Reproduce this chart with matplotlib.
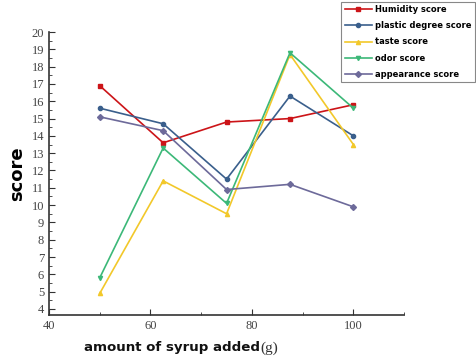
import matplotlib
matplotlib.use("Agg")
import matplotlib.pyplot as plt
from matplotlib.ticker import MultipleLocator

syrup = [50, 62.5, 75, 87.5, 100]
humidity = [16.9, 13.6, 14.8, 15.0, 15.8]
plastic = [15.6, 14.7, 11.5, 16.3, 14.0]
taste = [4.9, 11.4, 9.5, 18.7, 13.5]
odor = [5.8, 13.3, 10.1, 18.8, 15.6]
appearance = [15.1, 14.3, 10.9, 11.2, 9.9]

fig = plt.figure(figsize=(4.76, 3.6), dpi=100)
ax = fig.add_axes([0.103, 0.125, 0.746, 0.786])

series = [
    ("Humidity score", humidity, "#cc1418", "s"),
    ("plastic degree score", plastic, "#3a5f8c", "o"),
    ("taste score", taste, "#f2c82a", "^"),
    ("odor score", odor, "#3cb878", "v"),
    ("appearance score", appearance, "#6d6a9a", "D"),
]
for name, vals, col, mk in series:
    ax.plot(syrup, vals, color=col, marker=mk, markersize=3, linewidth=1.2, label=name)

ax.set_xlim(40, 110)
ax.set_ylim(3.65, 20)
ax.xaxis.set_major_locator(MultipleLocator(20))
ax.xaxis.set_minor_locator(MultipleLocator(10))
ax.yaxis.set_major_locator(MultipleLocator(1))
ax.yaxis.set_minor_locator(MultipleLocator(0.5))
ax.spines["top"].set_visible(False)
ax.spines["right"].set_visible(False)
for s in ("left", "bottom"):
    ax.spines[s].set_color("#333333")
    ax.spines[s].set_linewidth(1.2)
ax.tick_params(which="both", direction="in", colors="#333333", labelcolor="#444444")
ax.tick_params(which="major", length=4, labelsize=9)
ax.tick_params(which="minor", length=2.5)
for lab in ax.get_xticklabels() + ax.get_yticklabels():
    lab.set_family("Liberation Serif")

ax.set_ylabel("score", fontsize=13, fontweight="bold", family="DejaVu Sans", labelpad=4)
# x label: bold sans text followed by a serif unit
fig.text(0.176, 0.025, "amount of syrup added", fontsize=9.6, fontweight="bold",
         family="DejaVu Sans", color="#111111")
fig.text(0.548, 0.022, "(g)", fontsize=11, family="Liberation Serif", color="#333333")

leg = fig.legend(loc="upper right", bbox_to_anchor=(1.0, 0.998),
                 prop={"weight": "bold", "size": 6}, handlelength=3.2,
                 fancybox=False, edgecolor="#888888", framealpha=1,
                 borderpad=0.45, labelspacing=0.85, handletextpad=0.4,
                 borderaxespad=0.1)
leg.get_frame().set_linewidth(0.8)

fig.savefig("out.png", dpi=100)
